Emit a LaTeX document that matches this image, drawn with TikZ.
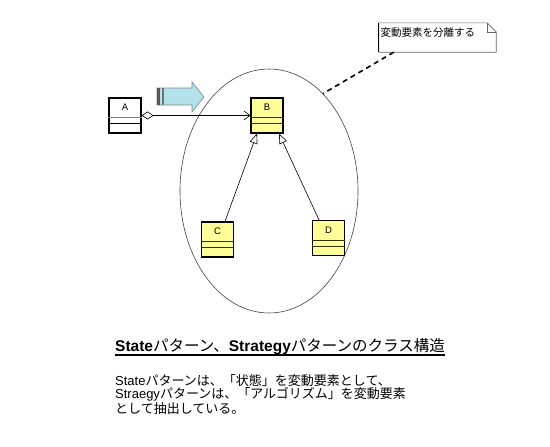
\documentclass[tikz,border=0pt]{standalone}
\usepackage{fontspec}
\setmainfont{Liberation Sans}
\newfontfamily\jp{Noto Sans CJK JP}
\usetikzlibrary{shapes.geometric,arrows.meta,calc}
\definecolor{clsfill}{HTML}{FFFF99}
\definecolor{clsline}{HTML}{333300}
\definecolor{arrfill}{HTML}{B4E2EA}
\definecolor{arredge}{HTML}{7A8A8C}
\tikzset{
  clsbox/.style={draw=black, line width=1.1pt, minimum width=32pt, minimum height=35pt, inner sep=0pt},
  clslabel/.style={font=\fontsize{9.5}{10}\selectfont, inner sep=0pt},
  compline/.style={draw=clsline, line width=0.8pt},
  gen/.style={line width=0.6pt, -{Triangle[open,length=10pt,width=8pt]}},
}
\begin{document}
\begin{tikzpicture}[x=1pt,y=-1pt]
\useasboundingbox (0,0) rectangle (550,447);
% ellipse
\node[ellipse, draw=black!75, line width=0.6pt, minimum width=178pt, minimum height=244pt, inner sep=0pt] (ell) at (269,191) {};
% class A
\node[clsbox, fill=white] (A) at (125,115.5) {};
\node[clslabel] (Alab) at ([yshift=-10pt]A.north) {A};
\draw[draw=gray, line width=1.2pt] ([yshift=-20pt]A.north west) -- ([yshift=-20pt]A.north east);
\draw[line width=0.8pt] ([yshift=-26pt]A.north west) -- ([yshift=-26pt]A.north east);
% class B
\node[clsbox, fill=clsfill] (B) at (267,115.5) {};
\node[clslabel] (Blab) at ([yshift=-10pt]B.north) {B};
\draw[compline] ([yshift=-20pt]B.north west) -- ([yshift=-20pt]B.north east);
\draw[compline] ([yshift=-26pt]B.north west) -- ([yshift=-26pt]B.north east);
% class C
\node[clsbox, fill=clsfill] (C) at (217.5,239.5) {};
\node[clslabel] (Clab) at ([yshift=-10pt]C.north) {C};
\draw[compline] ([yshift=-20pt]C.north west) -- ([yshift=-20pt]C.north east);
\draw[compline] ([yshift=-26pt]C.north west) -- ([yshift=-26pt]C.north east);
% class D
\node[clsbox, fill=clsfill] (D) at (328.5,238) {};
\node[clslabel] (Dlab) at ([yshift=-10pt]D.north) {D};
\draw[compline] ([yshift=-20pt]D.north west) -- ([yshift=-20pt]D.north east);
\draw[compline] ([yshift=-26pt]D.north west) -- ([yshift=-26pt]D.north east);
% aggregation A -> B
\draw[line width=0.6pt, {Diamond[open,length=12pt,width=8pt]}-{Straight Barb[length=6pt,width=9pt]}] (A.east) -- (B.west);
% generalizations
\draw[gen] ([xshift=7.5pt]C.north) -- ([xshift=-10pt]B.south);
\draw[gen] ([xshift=-9.5pt]D.north) -- ([xshift=12pt]B.south);
% block arrow
\draw[draw=arredge, fill=arrfill, line width=0.6pt] (157,88) -- (192,88) -- (192,82) -- (204,97) -- (192,112) -- (192,105) -- (157,105) -- cycle;
\fill[black!65] (157,88) rectangle (159.5,105);
\fill[black!55] (161.5,88) rectangle (164,105);
% note
\node[minimum width=117pt, minimum height=29pt, inner sep=0pt] (note) at (437.5,37.5) {};
\draw[draw=black!60, line width=0.6pt, fill=white] (note.north west) -- ([xshift=-9pt]note.north east) -- ([yshift=-9pt]note.north east) -- (note.south east) -- (note.south west) -- cycle;
\draw[draw=black!60, line width=0.6pt] ([xshift=-9pt]note.north east) -- ([xshift=-9pt,yshift=-9pt]note.north east) -- ([yshift=-9pt]note.north east);
\draw[black, line width=1pt] (note.north west) -- (note.south west);
\node[anchor=west, inner sep=0pt, font=\jp\fontsize{10.5}{12}\selectfont] (notetext) at (380.5,33) {変動要素を分離する};
\draw[line width=1.6pt, dash pattern=on 5pt off 4pt] ([xshift=15pt]note.south west) -- (ell.61);
% title
\node[anchor=base west, inner sep=0pt, font=\fontsize{15.5}{17}\selectfont] (title) at (115,351) {\bfseries State{\jp\mdseries パターン、}Strategy{\jp\mdseries パターンのクラス構造}};
\draw[line width=1.4pt] ([yshift=-4pt]title.base west) -- ([yshift=-4pt]title.base east);
% description
\node[anchor=north west, inner sep=0pt, align=left, font=\fontsize{13}{13.6}\selectfont] (desc) at (115,374) {State{\jp パターンは、「状態」を変動要素として、}\\Straegy{\jp パターンは、「アルゴリズム」を変動要素}\\{\jp として抽出している。}};
\end{tikzpicture}
\end{document}
